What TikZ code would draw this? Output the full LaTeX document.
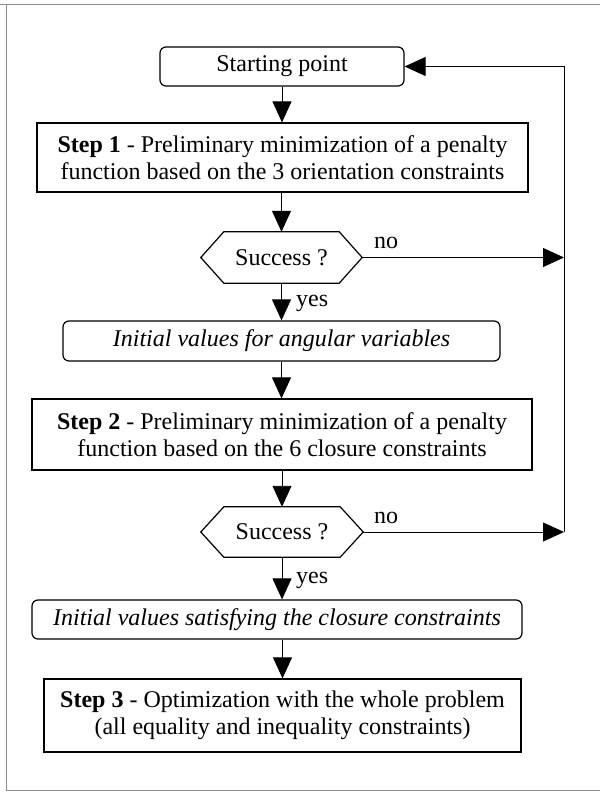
\documentclass[tikz,border=0pt]{standalone}
\usepackage{fontspec}
\setmainfont{Liberation Serif}
\usetikzlibrary{arrows.meta}
\begin{document}
\begin{tikzpicture}[x=1pt,y=-1pt,
  txt/.style={font=\fontsize{24}{27}\selectfont, inner sep=0pt, align=center},
  box/.style={txt, draw, line width=1.2pt},
  rbox/.style={box, rounded corners=6pt},
  flow/.style={line width=0.9pt, -{Triangle[length=21pt,width=19pt]}},
  hexa/.style={draw, line width=1.2pt, line join=miter},
  frameline/.style={draw=black!45, line width=1pt}]
\useasboundingbox (0,0) rectangle (600,794);

% page frame
\draw[frameline] (0,5) -- (600,5);
\draw[frameline] (6,5) -- (6,790) -- (600,790);

% boxes
\node[rbox, minimum width=244pt, minimum height=39pt] (start) at (282,66.5) {Starting point};
\node[box, minimum width=491pt, minimum height=69pt] (s1) at (282.5,157.5)
  {\textbf{Step 1} - Preliminary minimization of a penalty\\function based on the 3 orientation constraints};
\node[txt, minimum width=161pt, minimum height=51pt] (d1) at (281.5,257.5) {Success ?};
\node[rbox, minimum width=437pt, minimum height=40pt] (i1) at (281.5,341) {\itshape Initial values for angular variables};
\node[box, minimum width=500pt, minimum height=71pt] (s2) at (282,434.5)
  {\textbf{Step 2} - Preliminary minimization of a penalty\\function based on the 6 closure constraints};
\node[txt, minimum width=162pt, minimum height=50pt] (d2) at (282,532) {Success ?};
\node[rbox, minimum width=490pt, minimum height=39pt] (i2) at (277,619.5) {\itshape Initial values satisfying the closure constraints};
\node[box, minimum width=477pt, minimum height=73pt] (s3) at (282.5,715.5)
  {\textbf{Step 3} - Optimization with the whole problem\\(all equality and inequality constraints)};

% decision hexagons
\foreach \d in {d1,d2}{
  \draw[hexa] ([xshift=23pt]\d.north west) -- ([xshift=-23pt]\d.north east) -- (\d.east)
    -- ([xshift=-23pt]\d.south east) -- ([xshift=23pt]\d.south west) -- (\d.west) -- cycle;
}

% main flow
\draw[flow] (start.south) -- (start.south |- s1.north);
\draw[flow] (s1.south -| d1.north) -- (d1.north);
\draw[flow] (d1.south) -- (d1.south |- i1.north);
\draw[flow] (i1.south) -- (i1.south |- s2.north);
\draw[flow] (s2.south -| d2.north) -- (d2.north);
\draw[flow] (d2.south) -- (d2.south |- i2.north);
\draw[flow] (i2.south -| s3.north) -- (s3.north);

% return path on the right
\coordinate (r1) at (564,257.5);
\coordinate (r2) at (564,532);
\coordinate (rt) at (564,66.5);
\draw[flow] (d1.east) -- (r1);
\draw[flow] (d2.east) -- (r2);
\draw[flow] (r2) -- (rt) -- (start.east);

% branch labels
\node[txt] (no1) at (386,243) {no};
\node[txt] (no2) at (386,518) {no};
\node[txt, anchor=west] (yes1) at (296,303) {yes};
\node[txt, anchor=west] (yes2) at (296,580) {yes};
\end{tikzpicture}
\end{document}
